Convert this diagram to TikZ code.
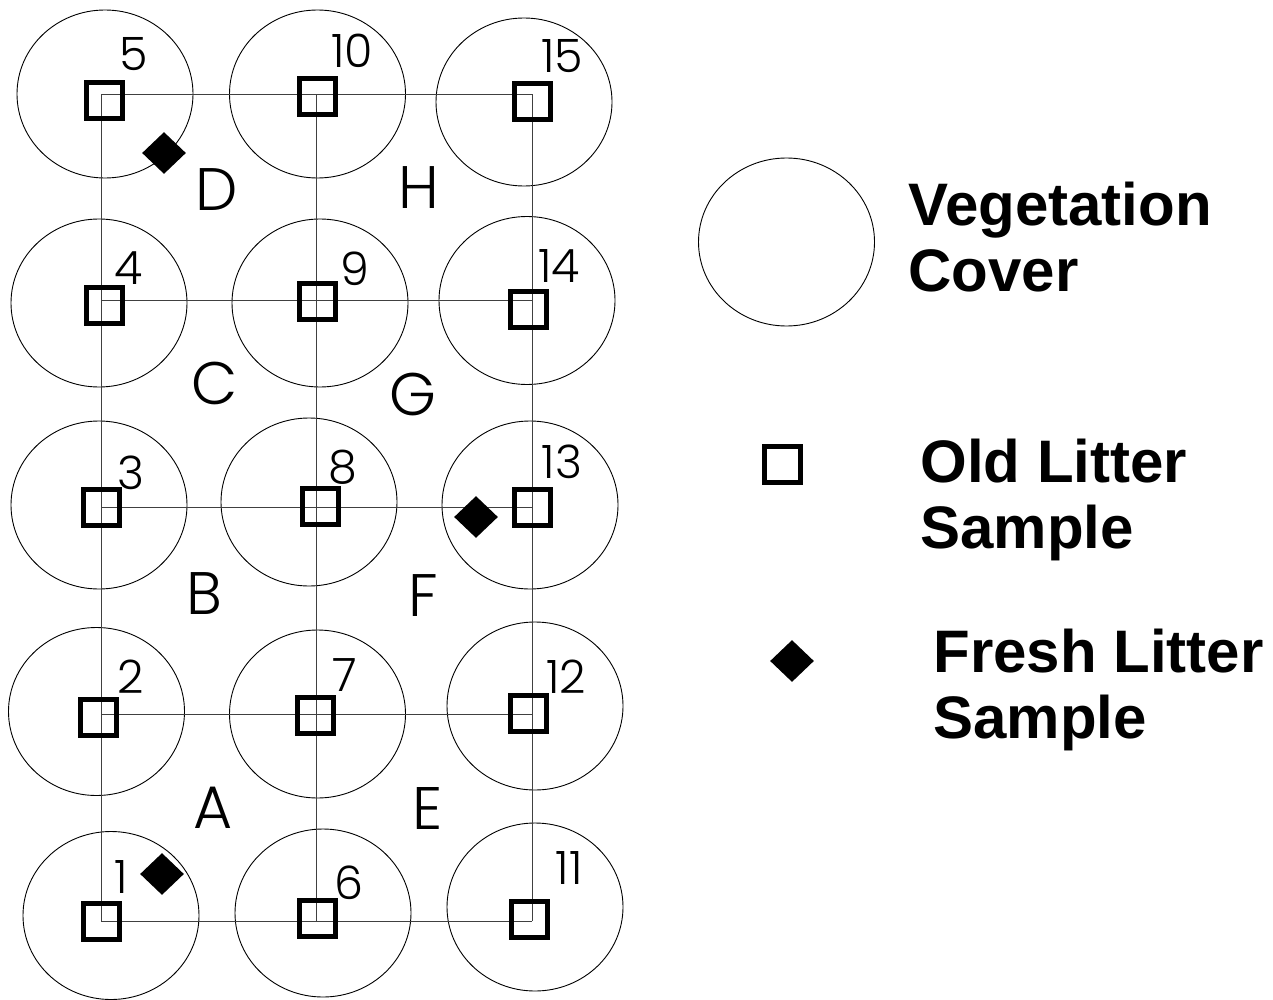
\documentclass[tikz,border=0pt]{standalone}
\usepackage{fontspec}
\usetikzlibrary{shapes.geometric}
\newfontfamily\legendfont{Liberation Sans}
\newfontfamily\plotfont{Poppins Light}

\begin{document}
\begin{tikzpicture}[x=0.5pt,y=-0.5pt,
  cover/.style={ellipse,draw,line width=0.45pt,minimum width=88pt,minimum height=84pt,inner sep=0pt},
  oldlit/.style={draw,line width=2.5pt,minimum size=18pt,inner sep=0pt},
  freshlit/.style={diamond,fill,minimum width=22pt,minimum height=21pt,inner sep=0pt},
  gridline/.style={line width=0.5pt,black!75},
  num/.style={font=\plotfont\fontsize{23}{23}\selectfont,inner sep=0pt},
  plot/.style={font=\plotfont\fontsize{30}{30}\selectfont,inner sep=0pt},
  legtext/.style={font=\legendfont\bfseries\fontsize{30}{33}\selectfont,align=left,anchor=base west,inner sep=0pt}]
\useasboundingbox (0,0) rectangle (1273,1000);
% vegetation cover round each sample point
\foreach \n/\x/\y in {1/111/915.5,2/96.5/711.5,3/99/505,4/99/303,5/105/94,
  6/323/913,7/317.5/714,8/309/502,9/320/303,10/317.5/94,
  11/535/907,12/535/706,13/530/505,14/527/300.5,15/524/102}
  \node[cover] (cov\n) at (\x,\y) {};
% grid points, numbered up the columns
\foreach \c/\x in {0/101,1/316.5,2/532}
  \foreach \r/\y in {1/921,2/714,3/507.7,4/300.7,5/94.3} {
    \pgfmathtruncatemacro\k{5*\c+\r}
    \coordinate (p\k) at (\x,\y);
  }
\foreach \a/\b in {1/5,6/10,11/15,1/11,2/12,3/13,4/14,5/15}
  \draw[gridline] (p\a) -- (p\b);
% old litter samples
\foreach \n/\x/\y in {1/101.7/921,2/98/717.5,3/101.7/507,4/104.5/305,5/104.5/100.5,
  6/317/918,7/315/715,8/320/506,9/317/301.5,10/317/96.5,
  11/529/919,12/528/713.5,13/532/507.5,14/528/309.5,15/532/101.5}
  \node[oldlit] (old\n) at (\x,\y) {};
% fresh litter samples
\node[freshlit] (fresh1) at (162,874) {};
\node[freshlit] (fresh5) at (164,153) {};
\node[freshlit] (fresh13) at (476,517) {};
% sample numbers
\foreach \n/\x/\y in {1/121/877,2/131/677,3/131/473,4/129/268,5/134/54,
  6/349/883,7/345/675,8/343/467,9/355/269,10/352/51,
  11/569/868,12/566/677,13/562/462,14/559/266,15/562/56}
  \node[num] (lab\n) at (\x,\y) {\n};
% plots
\foreach \t/\x/\y in {A/213/808,B/204.5/594,C/215/383,D/217/190,
  E/428/808,F/423.5/596,G/413/394,H/419/188}
  \node[plot] (plot\t) at (\x,\y) {\t};
% legend
\node[cover] (legcov) at (786.5,242) {};
\node[oldlit] (legold) at (782,464) {};
\node[freshlit] (legfresh) at (792,661) {};
\node[legtext] (legcovtxt) at (908,292) {Vegetation\\Cover};
\node[legtext] (legoldtxt) at (920,548.5) {Old Litter\\Sample};
\node[legtext] (legfreshtxt) at (933,738) {Fresh Litter\\Sample};
\end{tikzpicture}
\end{document}
